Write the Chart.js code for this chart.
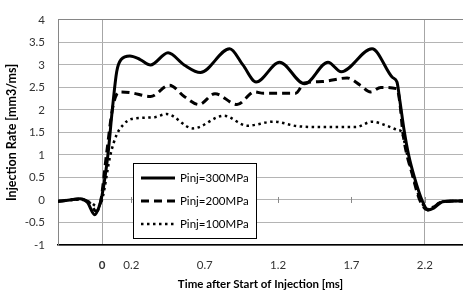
<!DOCTYPE html>
<html>
<head>
<meta charset="utf-8">
<script src="https://cdn.jsdelivr.net/npm/chart.js@4"></script>
<style>
  body { margin: 0; background: #fff; }
</style>
</head>
<body>
<canvas id="rate" width="463" height="295"></canvas>
<script>
// injection rate traces, time in ms, rate in mm3/ms
const labels = ['Pinj=300MPa', 'Pinj=200MPa', 'Pinj=100MPa'];

const t300 = [-0.30, -0.22, -0.15, -0.10, -0.05, -0.02, 0.00, 0.04, 0.07, 0.10, 0.13, 0.19, 0.26, 0.33, 0.45, 0.56, 0.67, 0.87, 0.96, 1.05, 1.21, 1.38, 1.54, 1.63, 1.84, 1.98, 2.01, 2.03, 2.06, 2.09, 2.13, 2.18, 2.22, 2.26, 2.32, 2.40, 2.46];
const v300 = [-0.03, 0.00, 0.03, -0.05, -0.33, -0.15, 0.10, 1.00, 2.00, 2.85, 3.12, 3.20, 3.12, 3.00, 3.27, 3.00, 2.83, 3.36, 3.00, 2.62, 3.06, 2.58, 3.06, 2.85, 3.36, 2.72, 2.62, 2.20, 1.52, 0.99, 0.49, 0.00, -0.22, -0.18, -0.04, -0.02, -0.02];

const t200 = [-0.30, -0.15, -0.08, -0.04, -0.01, 0.03, 0.07, 0.10, 0.125, 0.20, 0.33, 0.46, 0.56, 0.66, 0.77, 0.92, 1.04, 1.10, 1.32, 1.38, 1.50, 1.67, 1.76, 1.83, 1.90, 2.01, 2.03, 2.05, 2.12, 2.165, 2.22, 2.32, 2.46];
const v200 = [-0.03, 0.02, -0.08, -0.25, -0.05, 1.00, 2.00, 2.35, 2.40, 2.38, 2.30, 2.55, 2.30, 2.12, 2.36, 2.12, 2.40, 2.37, 2.37, 2.60, 2.63, 2.71, 2.55, 2.40, 2.50, 2.47, 2.15, 1.50, 0.50, 0.00, -0.22, -0.04, -0.02];

const t100 = [-0.30, -0.15, -0.08, -0.03, 0.00, 0.057, 0.10, 0.147, 0.20, 0.36, 0.44, 0.62, 0.83, 0.99, 1.17, 1.33, 1.50, 1.73, 1.84, 1.94, 2.02, 2.04, 2.08, 2.12, 2.17, 2.22, 2.32, 2.46];
const v100 = [-0.03, 0.01, -0.05, -0.15, 0.00, 1.00, 1.45, 1.68, 1.80, 1.84, 1.91, 1.59, 1.87, 1.65, 1.74, 1.64, 1.62, 1.62, 1.74, 1.65, 1.55, 1.52, 1.00, 0.50, 0.00, -0.20, -0.04, -0.02];

const xTicks = [0, 0.2, 0.7, 1.2, 1.7, 2.2];
const xGridAt = [0, 2.2];

const pts = (t, v) => t.map((x, i) => ({ x: x, y: v[i] }));

const font = "Lato, 'Open Sans', sans-serif";

// legend box drawn inside the plot, like the excel one
const boxLegend = {
  id: 'boxLegend',
  afterDraw(chart) {
    const c = chart.ctx;
    const a = chart.chartArea;
    const x0 = a.left + 75, y0 = a.bottom - 82, w = 123, h = 75;
    c.save();
    c.fillStyle = '#fff';
    c.fillRect(x0, y0, w, h);
    c.strokeStyle = '#000';
    c.lineWidth = 1;
    c.strokeRect(x0 + 0.5, y0 + 0.5, w, h);
    chart.data.datasets.forEach((ds, i) => {
      const y = y0 + 15 + i * 23;
      c.strokeStyle = '#000';
      c.lineWidth = ds.borderWidth;
      c.setLineDash(ds.borderDash || []);
      c.beginPath();
      c.moveTo(x0 + 8, y);
      c.lineTo(x0 + 42, y);
      c.stroke();
      c.setLineDash([]);
      c.fillStyle = '#000';
      c.font = '11.5px ' + font;
      c.textBaseline = 'middle';
      c.fillText(ds.label, x0 + 47, y);
    });
    c.restore();
  }
};

// small tick marks sitting on the zero line
const zeroTicks = {
  id: 'zeroTicks',
  beforeDatasetsDraw(chart) {
    const c = chart.ctx;
    const xs = chart.scales.x, ys = chart.scales.y;
    const y = ys.getPixelForValue(0);
    c.save();
    c.strokeStyle = '#888';
    c.lineWidth = 1;
    xTicks.forEach(v => {
      const x = Math.round(xs.getPixelForValue(v)) + 0.5;
      c.beginPath();
      c.moveTo(x, y - 3);
      c.lineTo(x, y + 3);
      c.stroke();
    });
    c.restore();
  }
};

new Chart(document.getElementById('rate').getContext('2d'), {
  type: 'line',
  data: {
    datasets: [
      {
        label: labels[0],
        data: pts(t300, v300),
        borderColor: '#000',
        borderWidth: 3,
        cubicInterpolationMode: 'monotone',
      },
      {
        label: labels[1],
        data: pts(t200, v200),
        borderColor: '#000',
        borderWidth: 3,
        borderDash: [8, 5],
        cubicInterpolationMode: 'monotone',
      },
      {
        label: labels[2],
        data: pts(t100, v100),
        borderColor: '#000',
        borderWidth: 2.5,
        borderDash: [2.5, 3.5],
        cubicInterpolationMode: 'monotone',
      },
    ]
  },
  options: {
    responsive: false,
    animation: false,
    devicePixelRatio: 1,
    elements: { point: { radius: 0 } },
    layout: { padding: { top: 10, right: 0, left: 0, bottom: 0 } },
    plugins: {
      legend: { display: false },
      tooltip: { enabled: false },
    },
    scales: {
      x: {
        type: 'linear',
        min: -0.3,
        max: 2.46,
        afterBuildTicks: s => { s.ticks = xTicks.map(v => ({ value: v })); },
        afterFit: s => { s.height = 50; },
        grid: {
          color: ctx => xGridAt.includes(ctx.tick && ctx.tick.value) ? '#a6a6a6' : 'rgba(0,0,0,0)',
          drawTicks: false,
        },
        border: { color: '#000', width: 1.5 },
        ticks: {
          padding: 13,
          maxRotation: 0,
          color: '#333',
          font: ctx => ({ family: font, size: 11.5, weight: ctx.tick && ctx.tick.value === 0 ? 'bold' : 'normal' }),
          callback: v => String(v),
        },
        title: {
          display: true,
          text: 'Time after Start of Injection [ms]',
          color: '#000',
          font: { family: font, size: 11.5, weight: 'bold' },
          padding: { top: 4 },
        },
      },
      y: {
        min: -1,
        max: 4,
        afterFit: s => { s.width = 58; },
        ticks: {
          stepSize: 0.5,
          padding: 13,
          color: '#333',
          font: { family: font, size: 11.5 },
          callback: v => String(v),
        },
        grid: {
          color: ctx => ctx.tick && ctx.tick.value === 4 ? '#868686' : '#b4b4b4',
          drawTicks: false,
        },
        border: { color: '#868686' },
        title: {
          display: true,
          text: 'Injection Rate [mm3/ms]',
          color: '#000',
          font: { family: font, size: 12.5, weight: 'bold' },
          padding: { bottom: 0 },
        },
      },
    },
  },
  plugins: [zeroTicks, boxLegend],
});
</script>
</body>
</html>
